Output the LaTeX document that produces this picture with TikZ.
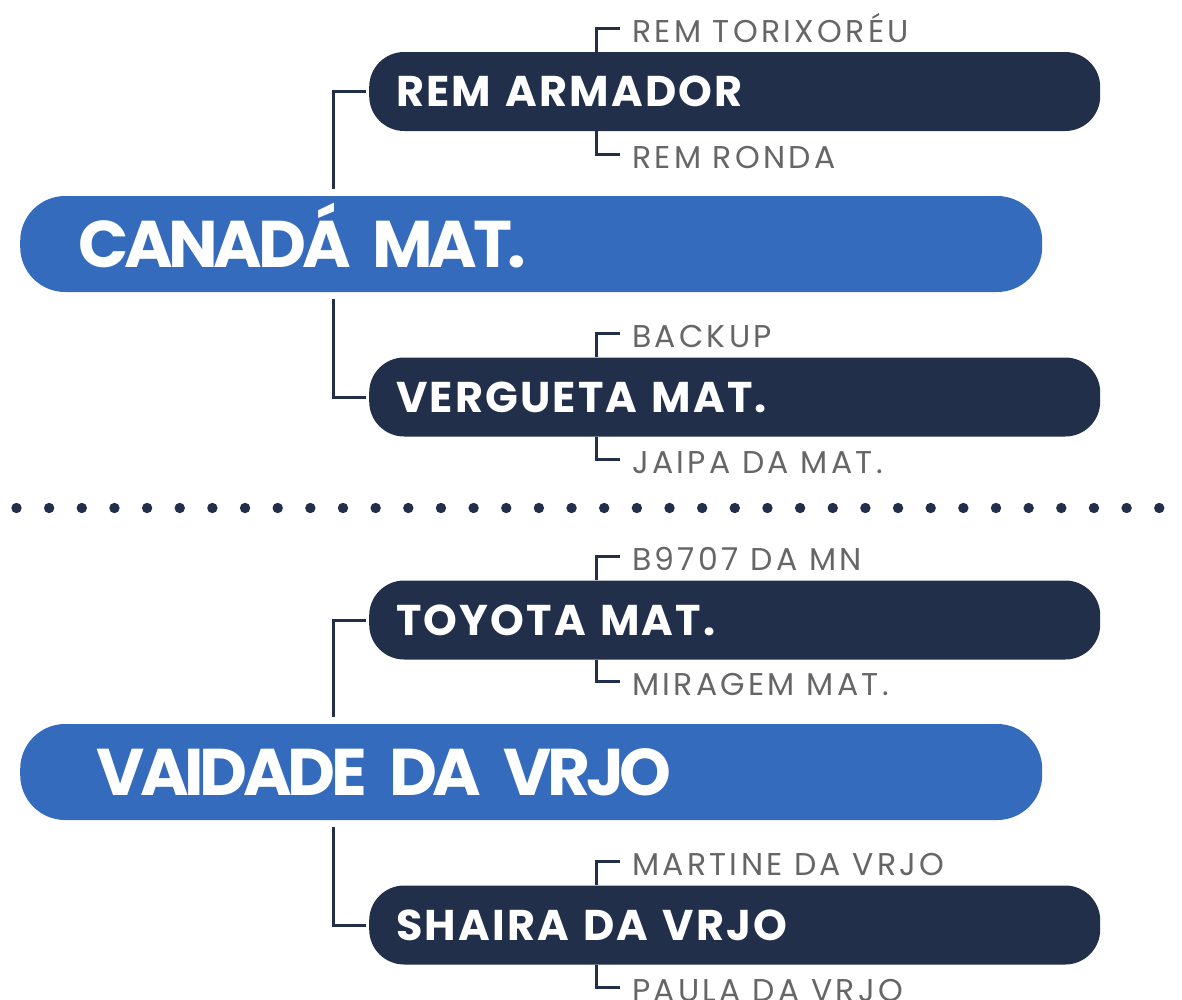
\documentclass[tikz,border=0pt]{standalone}
\usepackage{fontspec}
\newfontfamily\bigfont{Poppins}[LetterSpace=-6.5]
\newfontfamily\boxfont{Poppins}[LetterSpace=5]
\newfontfamily\labfont{Poppins}[LetterSpace=10.5]
\definecolor{mainblue}{HTML}{356BBD}
\definecolor{navy}{HTML}{222F4B}
\definecolor{subgray}{HTML}{666666}
\tikzset{
  mainbox/.style={fill=mainblue, rounded corners=45pt, minimum height=96pt, inner ysep=0pt,
    anchor=west, align=left, text=white, text height=46pt, text depth=0pt,
    font=\bigfont\bfseries\fontsize{66}{66}\selectfont},
  darkbox/.style={fill=navy, rounded corners=35pt, minimum height=79pt, inner ysep=0pt,
    inner xsep=27pt, text width=677pt, anchor=west, align=left, text=white,
    text height=30pt, text depth=0pt, font=\boxfont\bfseries\fontsize{43}{43}\selectfont},
  sublabel/.style={anchor=west, inner sep=0pt, text=subgray, text height=22pt, text depth=0pt,
    font=\labfont\fontsize{31.5}{31.5}\selectfont},
  conn/.style={draw=navy, line width=3pt},
}
\begin{document}
\begin{tikzpicture}[x=1pt,y=-1pt]
\useasboundingbox (0,0) rectangle (1182,999);
% trunk and bracket x positions
\coordinate (t1) at (333,0);
\coordinate (bx) at (596,0);

% ---- section 1
\node[darkbox] (arm) at (369,91.5) {REM ARMADOR};
\node[mainbox, inner xsep=58pt, text width=906pt] (can) at (20,244) {CANAD\'A MAT.};
\node[darkbox] (ver) at (369,397) {VERGUETA MAT.};

\node[sublabel] (l1) at (632,31) {REM TORIXOR\'EU};
\node[sublabel] (l2) at (632,157) {REM RONDA};
\node[sublabel] (l3) at (632,336) {BACKUP};
\node[sublabel] (l4) at (632,462) {JAIPA DA MAT.};

\draw[conn, shorten <=7pt, shorten >=3pt] (can.north -| t1) |- (arm.west);
\draw[conn, shorten <=7pt, shorten >=3pt] (can.south -| t1) |- (ver.west);
\draw[conn, shorten >=12pt] (arm.north -| bx) |- ([yshift=3pt]l1.west);
\draw[conn, shorten >=12pt] (arm.south -| bx) |- ([yshift=3pt]l2.west);
\draw[conn, shorten >=12pt] (ver.north -| bx) |- ([yshift=3pt]l3.west);
\draw[conn, shorten >=12pt] (ver.south -| bx) |- ([yshift=3pt]l4.west);

% ---- separator
\foreach \i in {0,...,36} \fill[navy] (16.5+32.65*\i,508) circle[radius=5.2pt];

% ---- section 2
\node[darkbox] (toy) at (369,620) {TOYOTA MAT.};
\node[mainbox, inner xsep=76pt, text width=870pt] (vai) at (20,772) {VAIDADE DA VRJO};
\node[darkbox] (sha) at (369,925) {SHAIRA DA VRJO};

\node[sublabel] (l5) at (632,559) {B9707 DA MN};
\node[sublabel] (l6) at (632,684) {MIRAGEM MAT.};
\node[sublabel] (l7) at (632,864) {MARTINE DA VRJO};
\node[sublabel] (l8) at (632,990) {PAULA DA VRJO};

\draw[conn, shorten <=7pt, shorten >=3pt] (vai.north -| t1) |- (toy.west);
\draw[conn, shorten <=7pt, shorten >=3pt] (vai.south -| t1) |- (sha.west);
\draw[conn, shorten >=12pt] (toy.north -| bx) |- ([yshift=3pt]l5.west);
\draw[conn, shorten >=12pt] (toy.south -| bx) |- ([yshift=3pt]l6.west);
\draw[conn, shorten >=12pt] (sha.north -| bx) |- ([yshift=3pt]l7.west);
\draw[conn, shorten >=12pt] (sha.south -| bx) |- ([yshift=3pt]l8.west);
\end{tikzpicture}
\end{document}
